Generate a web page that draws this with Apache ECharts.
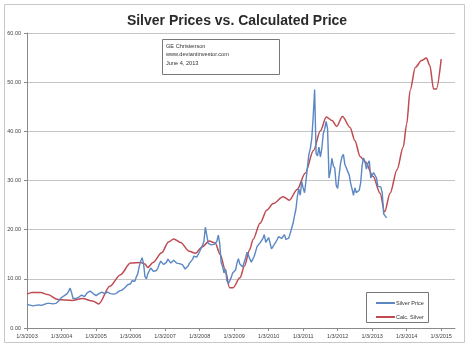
<!DOCTYPE html>
<html>
<head>
<meta charset="utf-8">
<script src="https://cdn.jsdelivr.net/npm/echarts@6/dist/echarts.min.js"></script>
<style>
html,body{margin:0;padding:0;background:#fff;}
#chart{width:474px;height:348px;}
</style>
</head>
<body>
<div id="chart"></div>
<script>
// ---- data ----
var xTickYears = [2003,2004,2005,2006,2007,2008,2009,2010,2011,2012,2013,2014,2015];
var yTicks = [0,10,20,30,40,50,60];

// Silver price, semi-monthly samples starting 1/2003
var silverStartYear = 2003;
var silverStepYears = 1/24;
var silverPrices = [
  // 2003
  4.8,4.7,4.65,4.6,4.5,4.45,4.6,4.5,4.7,4.8,4.6,4.5,4.8,4.9,5.0,5.1,5.0,5.1,4.9,4.8,5.0,5.2,5.5,5.8,
  // 2004
  6.2,6.4,6.6,6.7,7.0,7.5,8.1,7.2,6.0,5.7,6.0,5.9,6.3,6.5,6.7,6.6,6.4,6.8,7.2,7.3,7.5,7.6,7.0,6.8,
  // 2005
  6.6,6.7,7.0,7.3,7.3,7.1,7.0,7.1,7.3,7.2,7.0,7.1,6.9,7.0,7.0,7.1,7.5,7.6,7.7,7.9,8.2,8.6,8.8,8.9,
  // 2006
  9.0,9.6,9.7,9.5,10.4,11.0,12.5,13.5,14.3,13.2,10.5,10.0,11.0,11.3,12.2,12.0,11.5,11.2,11.7,12.2,13.0,13.6,13.4,12.9,
  // 2007
  13.1,13.4,14.0,14.2,13.2,13.4,13.8,13.6,13.2,12.9,13.1,12.7,12.9,12.5,12.0,12.3,12.6,13.2,13.5,13.9,14.6,14.2,14.4,14.8,
  // 2008
  15.5,16.2,16.8,17.6,20.5,18.9,17.2,16.8,16.9,16.5,17.0,17.3,17.6,18.9,17.2,13.3,12.5,11.2,12.0,9.6,9.0,9.6,10.3,11.2,
  // 2009
  11.3,11.8,13.2,14.1,13.0,13.2,12.4,12.8,14.3,15.4,14.8,14.0,13.4,13.6,14.6,15.0,16.6,16.8,17.3,17.4,18.2,19.0,17.4,17.0,
  // 2010
  18.4,17.3,16.1,16.3,17.0,17.4,18.0,18.6,18.8,18.2,18.6,19.0,18.0,17.7,18.3,19.2,20.3,21.3,22.8,24.2,26.8,28.3,27.0,29.8,
  // 2011
  28.5,27.5,30.0,32.8,35.3,36.5,38.5,43.0,48.5,35.5,35.0,36.8,34.8,36.5,39.5,40.5,42.0,40.5,30.5,32.0,34.5,33.0,32.5,29.0,
  // 2012
  28.4,31.0,33.5,34.8,35.3,33.3,32.6,31.8,31.2,29.5,28.3,27.0,28.5,27.5,27.8,28.0,29.5,33.0,34.6,33.8,32.3,33.5,34.0,30.5,
  // 2013
  30.8,31.6,32.0,30.5,28.8,28.5,28.7,27.5,23.2,23.5,22.4
];

// Calculated silver
var calcYears = [2003.0,2003.15,2003.4,2003.6,2003.9,2004.3,2004.6,2004.9,2005.08,2005.4,2005.7,2006.0,2006.3,2006.42,2006.5,2006.65,2006.9,2007.1,2007.25,2007.45,2007.7,2007.88,2008.07,2008.28,2008.45,2008.6,2008.74,2008.87,2008.97,2009.17,2009.3,2009.45,2009.55,2009.75,2009.95,2010.13,2010.42,2010.6,2010.82,2011.06,2011.3,2011.5,2011.67,2011.84,2011.97,2012.14,2012.36,2012.5,2012.65,2012.8,2013.03,2013.23,2013.36,2013.52,2013.72,2013.9,2014.0,2014.1,2014.25,2014.43,2014.57,2014.67,2014.78,2014.86,2015.0];
var calcPrices = [6.9,7.2,7.2,6.8,5.8,5.6,6.0,5.5,4.9,8.5,10.8,13.2,13.3,13.0,12.3,13.3,15.3,17.5,18.1,17.4,15.6,15.2,16.5,17.7,17.3,14.9,11.9,8.2,8.2,10.2,12.6,15.9,18.0,21.3,24.0,25.3,26.7,26.0,28.1,31.5,36.1,40.1,42.9,42.2,41.0,43.0,40.8,38.1,34.9,33.8,30.8,27.4,23.6,27.4,32.2,36.8,41.5,48.3,53.0,54.4,54.9,53.4,48.6,48.6,54.7];

var seriesNames = ['Silver Price','Calc. Silver'];
var titleText = 'Silver Prices vs. Calculated Price';
var noteLines = ['GE Christenson','www.deviantinvestor.com','June 4, 2013'];

// ---- build ----
var silverData = silverPrices.map(function(v,i){ return [silverStartYear + i*silverStepYears, v]; });
var calcData = calcYears.map(function(y,i){ return [y, calcPrices[i]]; });

var FONT = 'Liberation Sans';
var chart = echarts.init(document.getElementById('chart'), null, {renderer:'canvas'});
chart.setOption({
  animation:false,
  backgroundColor:'#ffffff',
  textStyle:{fontFamily:FONT},
  title:{
    text:titleText, left:'center', top:9,
    textStyle:{fontFamily:FONT, fontSize:14, fontWeight:'bold', color:'#2a2a2a'}
  },
  grid:{left:27, top:33, width:428, bottom:20, containLabel:false},
  xAxis:{
    type:'value', min:2003, max:2015.4,
    axisLine:{show:true, lineStyle:{color:'#8a8a8a', width:1}},
    axisTick:{show:true, length:3, lineStyle:{color:'#8a8a8a'}, customValues:xTickYears},
    axisLabel:{customValues:xTickYears, fontSize:5.5, color:'#444', margin:5,
      formatter:function(v){ return '1/3/' + Math.round(v); }},
    splitLine:{show:false}
  },
  yAxis:{
    type:'value', min:0, max:60, interval:10,
    axisLine:{show:true, lineStyle:{color:'#8a8a8a', width:1}},
    axisTick:{show:true, length:3, lineStyle:{color:'#8a8a8a'}},
    axisLabel:{fontSize:5.5, color:'#444', margin:6,
      formatter:function(v){ return v.toFixed(2); }},
    splitLine:{show:true, lineStyle:{color:'#c4c4c4', width:1}}
  },
  legend:{
    orient:'vertical', left:371, top:295, itemWidth:19, itemHeight:2, itemGap:8,
    icon:'rect',
    textStyle:{fontSize:5.5, color:'#333', padding:[0,0,0,-4]},
    data:seriesNames
  },
  graphic:[
    {type:'rect', shape:{x:4.5, y:4.5, width:460, height:338}, style:{fill:'none', stroke:'#c8c8c8', lineWidth:1}, silent:true, z:-1},
    {type:'rect', shape:{x:162.5, y:39.5, width:117, height:35}, style:{fill:'#fff', stroke:'#777', lineWidth:1}, z:10},
    {type:'text', left:166, top:42, z:11, style:{text:noteLines.join('\n'), fontFamily:FONT, fontSize:5.6, lineHeight:8.5, fill:'#333'}},
    {type:'rect', shape:{x:366.5, y:292.5, width:62, height:30}, style:{fill:'#fff', stroke:'#777', lineWidth:1}, z:1}
  ],
  series:[
    {name:seriesNames[0], type:'line', data:silverData, symbol:'none', z:3,
     lineStyle:{color:'#5b87c4', width:1.4}, itemStyle:{color:'#5b87c4'}},
    {name:seriesNames[1], type:'line', data:calcData, symbol:'none', z:2,
     smooth:0.3, smoothMonotone:'x',
     lineStyle:{color:'#bf4a50', width:1.5}, itemStyle:{color:'#bf4a50'}}
  ]
});
</script>
</body>
</html>
